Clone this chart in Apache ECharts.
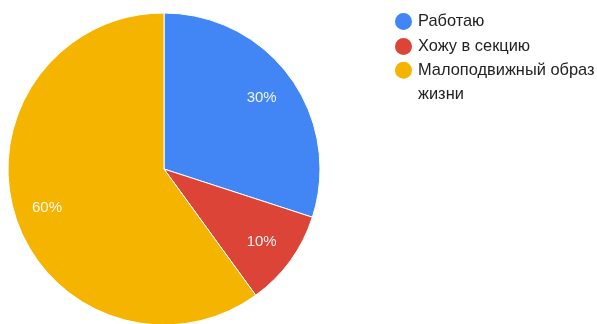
<!DOCTYPE html>
<html><head><meta charset="utf-8">
<script src="https://cdn.jsdelivr.net/npm/echarts@6/dist/echarts.min.js"></script>
<style>html,body{margin:0;padding:0;background:#fff}#c{width:597px;height:324px}</style>
</head><body><div id="c"></div>
<script>
const categories = ['Работаю', 'Хожу в секцию', 'Малоподвижный образ жизни'];
const values = [30, 10, 60];
const colors = ['#4285F4', '#DB4437', '#F4B400'];

const data = categories.map((n, i) => ({ name: n, value: values[i], itemStyle: { color: colors[i] } }));
const chart = echarts.init(document.getElementById('c'));
const font = '"Liberation Sans", Arial, sans-serif';
const legendText = { fontFamily: font, fontSize: 16.4, color: '#222', lineHeight: 25 };
chart.setOption({
  animation: false,
  legend: [
    { data: categories.slice(0, 2), orient: 'vertical', left: 393, top: 9, padding: 0, icon: 'circle',
      itemWidth: 19, itemHeight: 19, itemGap: 0, textStyle: legendText },
    { data: [categories[2]], orient: 'vertical', left: 393, top: 33.5, padding: 0, icon: 'circle',
      itemWidth: 19, itemHeight: 19, textStyle: Object.assign({}, legendText, { lineHeight: 24.5 }),
      formatter: n => '\n' + n.replace(' жизни', '\nжизни') }
  ],
  series: [
    { type: 'pie', center: [164, 169], radius: [0, 156], startAngle: 90, clockwise: true,
      data: data, label: { show: false }, labelLine: { show: false },
      itemStyle: { borderColor: '#fff', borderWidth: 1 } },
    { type: 'pie', center: [163, 170], radius: [82, 156], startAngle: 90, clockwise: true, silent: true,
      data: data.map(d => ({ name: d.name, value: d.value, itemStyle: { color: 'rgba(0,0,0,0)' } })),
      label: { show: true, position: 'inside', formatter: '{d}%', color: 'rgba(255,255,255,0.92)',
        fontFamily: font, fontSize: 15 },
      labelLine: { show: false }, emphasis: { disabled: true } }
  ]
});
</script></body></html>
